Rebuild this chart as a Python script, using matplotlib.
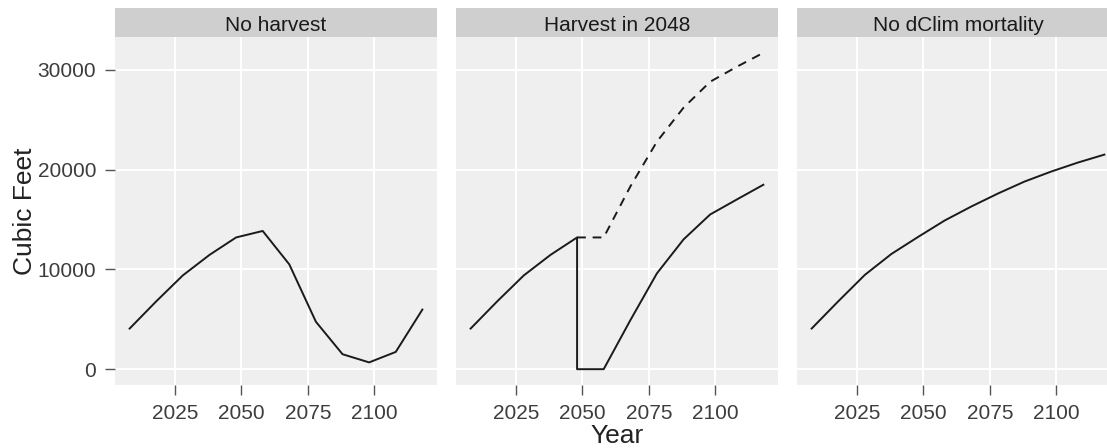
import matplotlib
matplotlib.use("Agg")
import matplotlib.pyplot as plt

# data (cubic feet by simulation year)
years = [2008, 2018, 2028, 2038, 2048, 2058, 2068, 2078, 2088, 2098, 2108, 2118]
no_harvest = [4070, 6800, 9400, 11450, 13200, 13850, 10500, 4750, 1500, 680, 1730, 5970]

harvest_years = [2008, 2018, 2028, 2038, 2048, 2048, 2058, 2068, 2078, 2088, 2098, 2108, 2118]
harvest = [4070, 6800, 9400, 11450, 13200, 0, 0, 4900, 9600, 13000, 15500, 17000, 18480]
unharvested_years = [2048, 2058, 2068, 2078, 2088, 2098, 2108, 2118]
unharvested = [13200, 13200, 18300, 22800, 26200, 28800, 30300, 31700]

no_dclim = [4070, 6800, 9450, 11550, 13250, 14900, 16300, 17600, 18800, 19800, 20700, 21500]

panel_titles = ["No harvest", "Harvest in 2048", "No dClim mortality"]
x_ticks = [2025, 2050, 2075, 2100]
y_ticks = [0, 10000, 20000, 30000]

W, H = 1107, 448
plt.rcParams["font.family"] = ["Liberation Sans", "DejaVu Sans"]

fig = plt.figure(figsize=(W / 100, H / 100), dpi=100)


def px_box(left, top, width, height):
    return [left / W, 1 - (top + height) / H, width / W, height / H]


# x / y limits with the ggplot-style 5% expansion
x_lo, x_hi = min(years), max(years)
x_pad = (x_hi - x_lo) * 0.05
all_y = no_harvest + harvest + unharvested + no_dclim
y_lo, y_hi = min(all_y), max(all_y)
y_pad = (y_hi - y_lo) * 0.05

panel_lefts = [115, 456, 797]
panel_top, panel_h, panel_w = 37, 348, 322
strip_top, strip_h = 8, 29

line_kw = dict(color="#1a1a1a", lw=1.4, solid_joinstyle="round")

axes = []
for i, left in enumerate(panel_lefts):
    ax = fig.add_axes(px_box(left, panel_top, panel_w, panel_h))
    ax.set_facecolor("#efefef")
    for s in ax.spines.values():
        s.set_visible(False)
    ax.set_xlim(x_lo - x_pad, x_hi + x_pad)
    ax.set_ylim(y_lo - y_pad, y_hi + y_pad)
    ax.set_xticks(x_ticks)
    ax.set_yticks(y_ticks)
    ax.grid(True, color="white", lw=1.5)
    ax.set_axisbelow(True)
    ax.tick_params(length=7.5, width=1.0, color="#555555", labelcolor="#3d3d3d",
                   labelsize=15, pad=6)
    if i > 0:
        ax.tick_params(axis="y", length=0, labelleft=False)

    strip = fig.add_axes(px_box(left, strip_top, panel_w, strip_h))
    strip.set_facecolor("#cfcfcf")
    strip.set_xticks([])
    strip.set_yticks([])
    for s in strip.spines.values():
        s.set_visible(False)
    strip.text(0.5, 0.19, panel_titles[i], transform=strip.transAxes,
               ha="center", va="baseline", fontsize=15, color="#1a1a1a")
    axes.append(ax)

axes[0].plot(years, no_harvest, **line_kw)
axes[1].plot(harvest_years, harvest, **line_kw)
axes[1].plot(unharvested_years, unharvested, color="#1a1a1a", lw=1.4,
             linestyle=(0, (4.5, 3.5)))
axes[2].plot(years, no_dclim, **line_kw)

fig.text(32 / W, 1 - 211 / H, "Cubic Feet", rotation=90, rotation_mode="anchor",
         ha="center", va="baseline", fontsize=19, color="#222222")
fig.text(617 / W, 1 - 443 / H, "Year", ha="center", va="baseline",
         fontsize=19, color="#222222")

fig.savefig("out.png", dpi=100)
